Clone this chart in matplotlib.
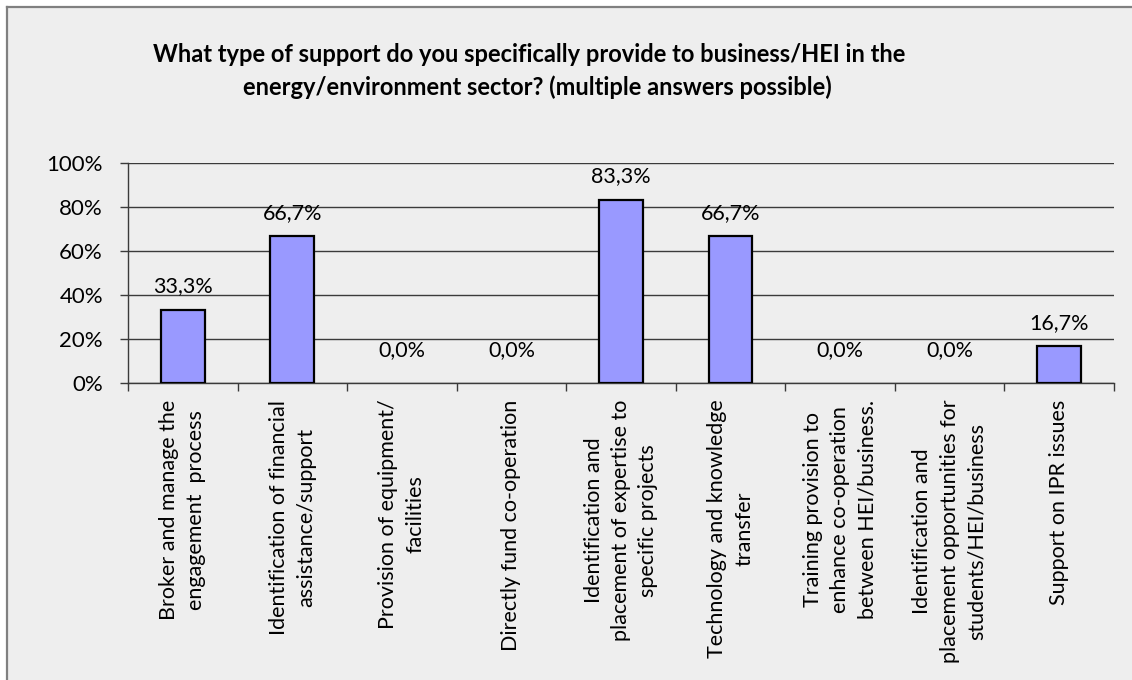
import matplotlib
matplotlib.use("Agg")
import matplotlib.pyplot as plt
from matplotlib.patches import Rectangle
from matplotlib.lines import Line2D
from matplotlib.ticker import FixedLocator, FuncFormatter

plt.rcParams['font.family'] = ['Lato', 'DejaVu Sans']

title_lines = [
    "What type of support do you specifically provide to business/HEI in the",
    "energy/environment sector? (multiple answers possible)",
]

categories = [
    "Broker and manage the\nengagement  process",
    "Identification of financial\nassistance/support",
    "Provision of equipment/\nfacilities",
    "Directly fund co-operation",
    "Identification and\nplacement of expertise to\nspecific projects",
    "Technology and knowledge\ntransfer",
    "Training provision to\nenhance co-operation\nbetween HEI/business.",
    "Identification and\nplacement opportunities for\nstudents/HEI/business",
    "Support on IPR issues",
]

shares = [33.3, 66.7, 0.0, 0.0, 83.3, 66.7, 0.0, 0.0, 16.7]

y_ticks = [0, 20, 40, 60, 80, 100]

bg = '#eeeeee'
bar_color = '#9999ff'
line_color = '#3a3a3a'
W, H = 1132, 680

fig = plt.figure(figsize=(W / 100, H / 100), dpi=100)
fig.patch.set_facecolor(bg)

# white margin outside the chart frame, plus the frame's left and top edges
fig.patches.append(Rectangle((0, 0), 6 / W, 1, transform=fig.transFigure,
                             facecolor='white', edgecolor='none', zorder=-5))
fig.patches.append(Rectangle((0, 1 - 6 / H), 1, 6 / H, transform=fig.transFigure,
                             facecolor='white', edgecolor='none', zorder=-5))
fig.lines.append(Line2D([6.5 / W, 6.5 / W], [0, 1 - 6.5 / H], transform=fig.transFigure,
                        color='#808080', linewidth=1.6))
fig.lines.append(Line2D([6.5 / W, 1], [1 - 6.5 / H, 1 - 6.5 / H], transform=fig.transFigure,
                        color='#808080', linewidth=1.6))

ax = fig.add_axes([128 / W, 1 - 383 / H, (1114 - 128) / W, 220 / H])
ax.set_facecolor(bg)

x = list(range(len(categories)))
nonzero = [(xi, v) for xi, v in zip(x, shares) if v > 0]
ax.bar([p[0] for p in nonzero], [p[1] for p in nonzero], width=0.4,
       color=bar_color, edgecolor='black', linewidth=1.6, zorder=3)

for xi, v in zip(x, shares):
    off = 17 if v > 0 else 24
    ax.annotate(f"{v:.1f}%".replace('.', ','), (xi, v),
                xytext=(0, off), textcoords='offset points',
                ha='center', va='center', fontsize=15.5, color='black',
                zorder=4)

ax.set_xlim(-0.5, len(categories) - 0.5)
ax.set_ylim(0, 100)

ax.set_yticks(y_ticks)
ax.yaxis.set_major_formatter(FuncFormatter(lambda v, p: f"{int(v)}%"))
ax.tick_params(axis='y', length=6, width=1, color=line_color,
               labelsize=16, pad=12, labelcolor='black')
ax.yaxis.grid(True, color=line_color, linewidth=1.0, zorder=1)
ax.set_axisbelow(True)

ax.set_xticks(x)
ax.set_xticklabels(categories, rotation=90, ha='center', va='top',
                   multialignment='center', linespacing=1.45, fontsize=15.5)
ax.tick_params(axis='x', which='major', length=0, pad=12)
ax.xaxis.set_minor_locator(FixedLocator([i - 0.5 for i in range(len(categories) + 1)]))
ax.tick_params(axis='x', which='minor', length=6, width=1, color=line_color)

for side in ('top', 'right'):
    ax.spines[side].set_visible(False)
for side in ('left', 'bottom'):
    ax.spines[side].set_color(line_color)
    ax.spines[side].set_linewidth(1.0)

fig.text(529 / W, 1 - 54 / H, title_lines[0], ha='center', va='center',
         fontsize=17, fontweight='bold', color='black')
fig.text(537 / W, 1 - 87 / H, title_lines[1], ha='center', va='center',
         fontsize=17, fontweight='bold', color='black')

fig.savefig('out.png', dpi=100, facecolor=fig.get_facecolor())
